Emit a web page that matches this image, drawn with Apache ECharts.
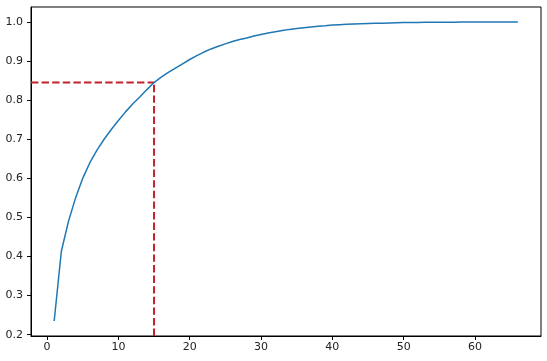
<!DOCTYPE html>
<html>
<head>
<meta charset="utf-8">
<script src="https://cdn.jsdelivr.net/npm/echarts@6/dist/echarts.min.js"></script>
<style>
html,body{margin:0;padding:0;background:#fff;}
#chart{width:547px;height:361px;}
</style>
</head>
<body>
<div id="chart"></div>
<script>
// Cumulative explained variance per number of components
var cumulativeVariance = [
  0.235, 0.413, 0.49, 0.55, 0.60, 0.64, 0.672, 0.70, 0.725, 0.748,
  0.77, 0.79, 0.808, 0.827, 0.845, 0.859, 0.871, 0.882, 0.893, 0.904,
  0.914, 0.923, 0.931, 0.938, 0.944, 0.950, 0.955, 0.959, 0.964, 0.968,
  0.972, 0.975, 0.978, 0.981, 0.983, 0.985, 0.987, 0.989, 0.990, 0.992,
  0.993, 0.994, 0.995, 0.9955, 0.996, 0.9965, 0.997, 0.9975, 0.998, 0.9983,
  0.9986, 0.9988, 0.999, 0.9992, 0.9993, 0.9994, 0.9995, 0.9996, 0.9997, 0.9998,
  0.9998, 0.9999, 0.9999, 1.0, 1.0, 1.0
];
var firstComponent = 1;
var cutoffComponent = 15;
var cutoffVariance = 0.845;
var xTicks = [0, 10, 20, 30, 40, 50, 60];
var yTicks = [0.2, 0.3, 0.4, 0.5, 0.6, 0.7, 0.8, 0.9, 1.0];

var n = cumulativeVariance.length;
var curve = cumulativeVariance.map(function (v, i) { return [firstComponent + i, v]; });
var xSpan = (n - 1);
var xMin = firstComponent - xSpan * 0.05;
var xMax = firstComponent + xSpan * 1.05;
var yLo = Math.min.apply(null, cumulativeVariance);
var yHi = Math.max.apply(null, cumulativeVariance);
var ySpan = yHi - yLo;
var yMin = yLo - ySpan * 0.05;
var yMax = yHi + ySpan * 0.05;

var hLine = [[xMin, cutoffVariance], [cutoffComponent, cutoffVariance]];
var vLine = [[cutoffComponent, yMin], [cutoffComponent, cutoffVariance]];

var chart = echarts.init(document.getElementById('chart'), null, {renderer: 'canvas'});
var labelStyle = {color: '#222', fontSize: 11, fontFamily: 'DejaVu Sans'};
chart.setOption({
  animation: false,
  backgroundColor: '#fff',
  grid: {left: 31, right: 6, top: 7, bottom: 25, show: true, borderColor: '#000', borderWidth: 1, containLabel: false},
  xAxis: {
    type: 'value', min: xMin, max: xMax,
    axisLine: {show: true, onZero: false, lineStyle: {color: '#000', width: 1}},
    axisTick: {show: true, length: 4, customValues: xTicks, lineStyle: {color: '#000'}},
    axisLabel: Object.assign({customValues: xTicks, margin: 6, formatter: function (v) { return String(Math.round(v)); }}, labelStyle),
    splitLine: {show: false}
  },
  yAxis: {
    type: 'value', min: yMin, max: yMax,
    axisLine: {show: true, onZero: false, lineStyle: {color: '#000', width: 1}},
    axisTick: {show: true, length: 4, customValues: yTicks, lineStyle: {color: '#000'}},
    axisLabel: Object.assign({customValues: yTicks, margin: 8, formatter: function (v) { return v.toFixed(1); }}, labelStyle),
    splitLine: {show: false}
  },
  series: [
    {type: 'line', data: curve, showSymbol: false, symbol: 'none', lineStyle: {color: '#1f77b4', width: 1.5}, z: 3},
    {type: 'line', data: hLine, showSymbol: false, symbol: 'none', lineStyle: {color: '#c0222b', width: 2, type: [7.4, 3.2]}, z: 2},
    {type: 'line', data: vLine, showSymbol: false, symbol: 'none', lineStyle: {color: '#c0222b', width: 2, type: [7.4, 3.2]}, z: 2}
  ]
});
</script>
</body>
</html>
